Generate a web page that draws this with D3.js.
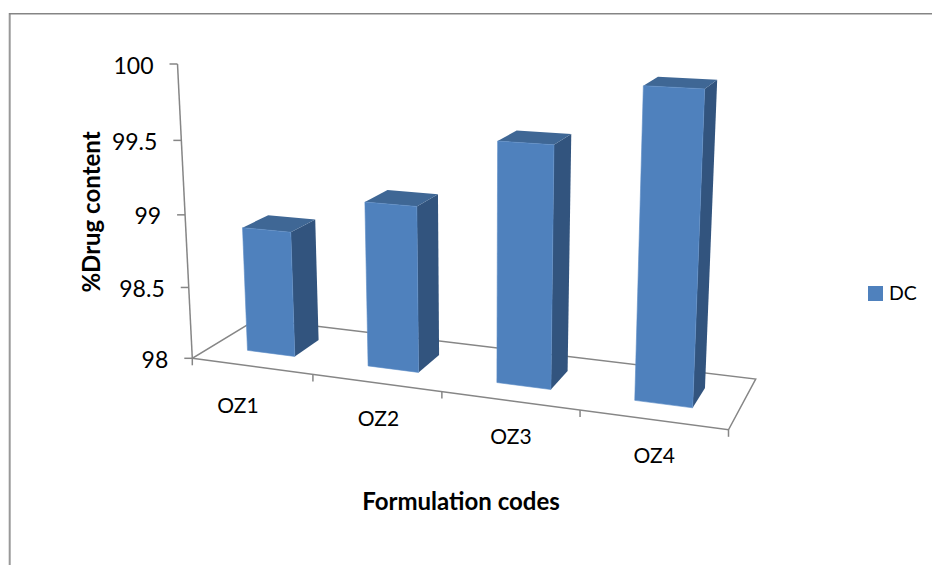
<!DOCTYPE html>
<html>
<head>
<meta charset="utf-8">
<script src="https://cdn.jsdelivr.net/npm/d3@7"></script>
<style>
  html,body{margin:0;padding:0;background:#fff;overflow:hidden;}
  text{font-family:Lato,"Open Sans",sans-serif;fill:#000;}
</style>
</head>
<body>
<script>
const width = 932;
const height = 565;

const categories = ['OZ1','OZ2','OZ3','OZ4'];
const drugContent = [98.87,99.12,99.58,99.97];
const valueTicks = [98,98.5,99,99.5,100];
const seriesName = 'DC';
const barColor = '#4F81BD', topColor = '#3F6795', sideColor = '#32547E', axisColor = '#868686';

// corners of the floor and top of the value axis, these fix the 3d view
const floor = [[192.3,358.3],[728.5,429.8],[755.7,379],[257,319]];
const axisTop = [177.5,64];
const zPersp = -0.049;

function makeProjection(){
  const [p0,p1,p2,p3] = floor;
  const sx = p0[0]-p1[0]+p2[0]-p3[0], sy = p0[1]-p1[1]+p2[1]-p3[1];
  const dx1 = p1[0]-p2[0], dx2 = p3[0]-p2[0], dy1 = p1[1]-p2[1], dy2 = p3[1]-p2[1];
  const den = dx1*dy2-dx2*dy1;
  const g = (sx*dy2-dx2*sy)/den, h = (dx1*sy-sx*dy1)/den;
  const xc = [p1[0]-p0[0]+g*p1[0], p3[0]-p0[0]+h*p3[0], axisTop[0]*(1+zPersp)-p0[0], p0[0]];
  const yc = [p1[1]-p0[1]+g*p1[1], p3[1]-p0[1]+h*p3[1], axisTop[1]*(1+zPersp)-p0[1], p0[1]];
  return (u,v,w)=>{
    const d = g*u+h*v+zPersp*w+1;
    return [(xc[0]*u+xc[1]*v+xc[2]*w+xc[3])/d,(yc[0]*u+yc[1]*v+yc[2]*w+yc[3])/d];
  };
}
const project = makeProjection();

const xScale = d3.scaleBand().domain(categories).range([0,1]).paddingInner(0.6).paddingOuter(0.3);
const depthScale = d3.scaleBand().domain([seriesName]).range([0,1]).paddingInner(0.6).paddingOuter(0.3);
const yScale = d3.scaleLinear().domain([98,100]).range([0,1]);

const svg = d3.select('body').append('svg').attr('width',width).attr('height',height);
const line = d3.line();

// outer frame of the pasted chart
svg.append('path').attr('d',line([[9.7,13],[9.7,height]]))
   .attr('fill','none').attr('stroke','#999').attr('stroke-width',2);
svg.append('path').attr('d',line([[9,13.8],[width,13.8]]))
   .attr('fill','none').attr('stroke','#858585').attr('stroke-width',1.4);

// floor
const floorG = svg.append('g').attr('fill','none').attr('stroke',axisColor).attr('stroke-width',1.5);
floorG.append('path').attr('d',line([project(0,0,0),project(1,0,0),project(1,1,0),project(0,1,0)])+'Z');

// value axis
floorG.append('path').attr('d',line([project(0,0,0),project(0,0,1)]));
floorG.selectAll('.ytick').data(valueTicks).enter().append('path')
   .attr('class','ytick')
   .attr('d',d=>{
     const p = project(0,0,yScale(d));
     return line([p,[p[0]-8,p[1]]]);
   });

// category ticks along the front edge
const tickPositions = d3.range(categories.length+1).map(i=>i/categories.length);
floorG.selectAll('.xtick').data(tickPositions).enter().append('path')
   .attr('class','xtick')
   .attr('d',d=>{
     const p = project(d,0,0);
     return line([p,[p[0],p[1]+7]]);
   });

// bars
const bw = xScale.bandwidth();
const v0 = depthScale(seriesName), v1 = v0+depthScale.bandwidth();
const bars = svg.selectAll('.bar').data(categories).enter().append('g').attr('class','bar');
bars.each(function(c,i){
  const u0 = xScale(c), u1 = u0+bw, w = yScale(drugContent[i]);
  const g = d3.select(this);
  g.append('path').attr('fill',sideColor)
   .attr('d',line([project(u1,v0,0),project(u1,v1,0),project(u1,v1,w),project(u1,v0,w)])+'Z');
  g.append('path').attr('fill',topColor)
   .attr('d',line([project(u0,v0,w),project(u1,v0,w),project(u1,v1,w),project(u0,v1,w)])+'Z');
  g.append('path').attr('fill',barColor).attr('stroke','#5A8CC6').attr('stroke-width',0.6)
   .attr('d',line([project(u0,v0,0),project(u1,v0,0),project(u1,v0,w),project(u0,v0,w)])+'Z');
});

// value labels
svg.selectAll('.ylabel').data(valueTicks).enter().append('text')
   .attr('class','ylabel')
   .attr('text-anchor','end')
   .attr('font-size',23)
   .attr('x',d=>project(0,0,yScale(d))[0]-24)
   .attr('y',d=>project(0,0,yScale(d))[1]+9.5)
   .text(d=>d);

// category labels sit in front of the floor, the first one is pushed out a bit
const labelNudgeX = [-13,2,0,-1];
const labelNudgeY = [7,3,3,3];
svg.selectAll('.xlabel').data(categories).enter().append('text')
   .attr('class','xlabel')
   .attr('text-anchor','middle')
   .attr('font-size',21)
   .attr('x',(d,i)=>project(xScale(d)+bw/2,-0.1,0)[0]+6+labelNudgeX[i])
   .attr('y',(d,i)=>project(xScale(d)+bw/2,-0.1,0)[1]+35+labelNudgeY[i])
   .text(d=>d);

// axis titles
svg.append('text').attr('text-anchor','middle').attr('font-size',24).attr('font-weight','bold')
   .attr('transform','translate(100,212) rotate(-90)').text('%Drug content');
svg.append('text').attr('text-anchor','middle').attr('font-size',24).attr('font-weight','bold')
   .attr('x',461).attr('y',510).text('Formulation codes');

// legend
svg.append('rect').attr('x',868).attr('y',286).attr('width',15).attr('height',15).attr('fill',barColor);
svg.append('text').attr('x',889).attr('y',300).attr('font-size',19.5).text(seriesName);
</script>
</body>
</html>
